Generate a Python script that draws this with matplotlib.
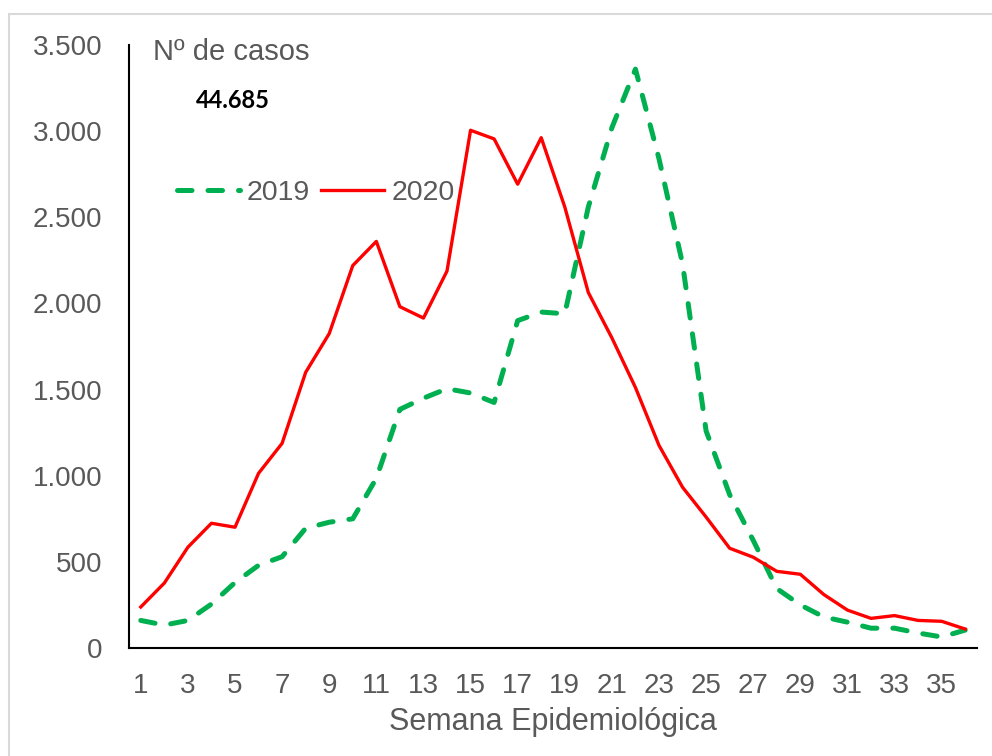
import matplotlib
matplotlib.use("Agg")
import matplotlib.pyplot as plt
from matplotlib.patches import Rectangle
from matplotlib.ticker import FuncFormatter

weeks = list(range(1, 37))
cases_2019 = [160, 133, 160, 255, 380, 480, 530, 695, 730, 750, 985, 1385, 1450, 1505,
              1480, 1425, 1900, 1950, 1940, 2560, 3020, 3360, 2840, 2230, 1260, 890,
              625, 345, 250, 180, 150, 115, 115, 87, 64, 104]
cases_2020 = [238, 377, 585, 724, 701, 1014, 1188, 1600, 1825, 2220, 2360, 1981, 1915, 2188,
              3005, 2955, 2692, 2962, 2560, 2063, 1800, 1512, 1176, 933, 760, 579,
              527, 445, 428, 310, 220, 172, 188, 160, 155, 110]
series_labels = ["2019", "2020"]
xtick_weeks = list(range(1, 37, 2))
ytick_values = [0, 500, 1000, 1500, 2000, 2500, 3000, 3500]
y_title = "Nº de casos"
total_label = "44.685"
x_title = "Semana Epidemiológica"

GREY = "#595959"
plt.rcParams['font.family'] = ['Liberation Sans', 'DejaVu Sans']

fig = plt.figure(figsize=(9.92, 7.56), dpi=100)
fig.patches.append(Rectangle((9/992, -0.1), 1.2, 1 - 14/756 + 0.1, transform=fig.transFigure,
                             fill=False, edgecolor="#d9d9d9", linewidth=1.5))

ax = fig.add_axes([129/992, 108/756, (977-129)/992, (648-45)/756])

l19, = ax.plot(weeks, cases_2019, color="#00B050", linewidth=3.6, solid_capstyle="round",
               dash_capstyle="round", label=series_labels[0])
l19.set_dashes((2.9, 3.2))
l20, = ax.plot(weeks, cases_2020, color="#FF0000", linewidth=2.4, label=series_labels[1])

ax.set_xlim(0.5, 36.5)
ax.set_ylim(0, 3500)
ax.set_xticks(xtick_weeks)
ax.set_yticks(ytick_values)
ax.yaxis.set_major_formatter(FuncFormatter(lambda v, p: f"{int(v):,}".replace(",", ".")))
ax.tick_params(length=0, labelsize=20, labelcolor=GREY)
ax.tick_params(axis='y', pad=19)
ax.tick_params(axis='x', pad=18)
for s in ["top", "right"]:
    ax.spines[s].set_visible(False)
for s in ["left", "bottom"]:
    ax.spines[s].set_linewidth(1.5)
    ax.spines[s].set_color("black")

ax.set_xlabel(x_title, fontsize=22, color=GREY, labelpad=6)

fig.text(153/992, 1 - 52/756, y_title, fontsize=21, color=GREY, va="center", ha="left")
fig.text(196/992, 1 - 101/756, total_label, fontsize=17, fontweight="bold", color="black",
         va="center", ha="left", family=["Lato", "DejaVu Sans"])

leg = fig.legend(handles=[l19, l20], loc="center left", bbox_to_anchor=(177/992, 1 - 193/756),
                 ncol=2, frameon=False, fontsize=20.5, handlelength=2.2, handletextpad=0.25,
                 columnspacing=0.4, borderpad=0, borderaxespad=0)
for t in leg.get_texts():
    t.set_color(GREY)

fig.savefig("out.png", dpi=100)
